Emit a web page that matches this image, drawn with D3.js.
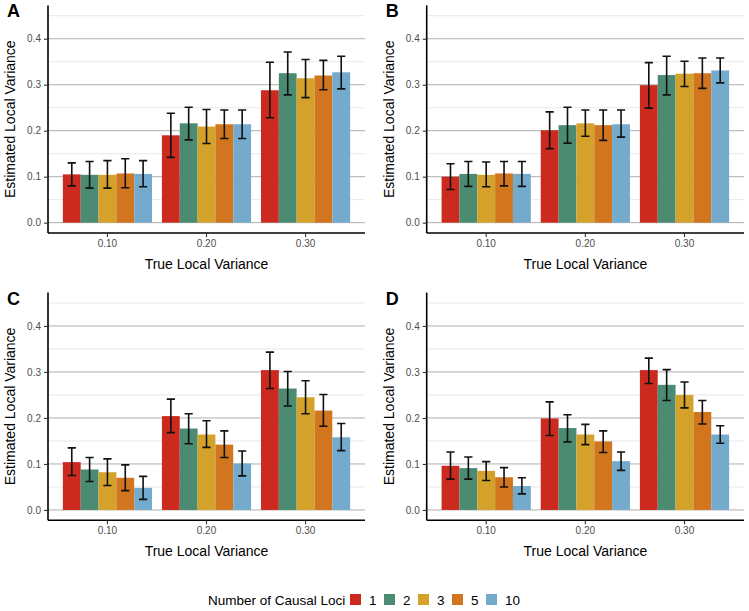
<!DOCTYPE html>
<html>
<head>
<meta charset="utf-8">
<script src="https://cdn.jsdelivr.net/npm/d3@7/dist/d3.min.js"></script>
<style>
  html, body { margin: 0; padding: 0; background: #fff; }
  svg { display: block; font-family: "Liberation Sans", Arial, Helvetica, sans-serif; }
</style>
</head>
<body>
<svg id="chart" width="749" height="611"></svg>
<script>
// ---------- data ----------
const categories = ["0.10", "0.20", "0.30"];
const loci = ["1", "2", "3", "5", "10"];
const lociColors = ["#CC2A1F", "#4A8B72", "#D4A22A", "#D1761F", "#74AACB"];
const yTicks = [0.0, 0.1, 0.2, 0.3, 0.4];
const yMinorTicks = [0.05, 0.15, 0.25, 0.35, 0.45];
const panelLabels = ["A", "B", "C", "D"];

// per category (rows) x per loci (columns)
const meanA = [[0.105, 0.104, 0.104, 0.107, 0.106], [0.190, 0.216, 0.209, 0.214, 0.214], [0.288, 0.325, 0.314, 0.320, 0.327]];
const loA   = [[0.080, 0.075, 0.075, 0.076, 0.078], [0.142, 0.180, 0.172, 0.183, 0.183], [0.228, 0.278, 0.272, 0.289, 0.291]];
const hiA   = [[0.130, 0.133, 0.135, 0.139, 0.135], [0.238, 0.251, 0.246, 0.245, 0.245], [0.349, 0.371, 0.355, 0.353, 0.362]];

const meanB = [[0.100, 0.106, 0.104, 0.107, 0.106], [0.201, 0.212, 0.216, 0.212, 0.214], [0.299, 0.321, 0.324, 0.325, 0.331]];
const loB   = [[0.072, 0.079, 0.078, 0.080, 0.079], [0.161, 0.173, 0.188, 0.179, 0.186], [0.249, 0.278, 0.296, 0.292, 0.304]];
const hiB   = [[0.128, 0.133, 0.132, 0.133, 0.133], [0.241, 0.251, 0.245, 0.245, 0.245], [0.348, 0.362, 0.351, 0.358, 0.358]];

const meanC = [[0.104, 0.088, 0.082, 0.070, 0.048], [0.204, 0.177, 0.164, 0.142, 0.101], [0.304, 0.264, 0.245, 0.216, 0.158]];
const loC   = [[0.075, 0.062, 0.053, 0.042, 0.023], [0.168, 0.144, 0.136, 0.114, 0.074], [0.264, 0.226, 0.209, 0.182, 0.129]];
const hiC   = [[0.135, 0.114, 0.111, 0.098, 0.073], [0.241, 0.209, 0.194, 0.172, 0.128], [0.343, 0.301, 0.281, 0.251, 0.188]];

const meanD = [[0.096, 0.091, 0.085, 0.071, 0.052], [0.199, 0.178, 0.164, 0.149, 0.106], [0.304, 0.272, 0.250, 0.213, 0.164]];
const loD   = [[0.067, 0.067, 0.064, 0.050, 0.035], [0.162, 0.148, 0.142, 0.125, 0.086], [0.275, 0.238, 0.222, 0.187, 0.145]];
const hiD   = [[0.126, 0.115, 0.105, 0.092, 0.070], [0.235, 0.207, 0.186, 0.172, 0.126], [0.330, 0.305, 0.278, 0.238, 0.183]];

const xTitle = "True Local Variance";
const yTitle = "Estimated Local Variance";
const legendTitle = "Number of Causal Loci";

// ---------- layout ----------
const svg = d3.select("#chart");
const panels = [
  { label: panelLabels[0], mean: meanA, lo: loA, hi: hiA, x0: 48, x1: 365, y0: 5.4, y1: 233 },
  { label: panelLabels[1], mean: meanB, lo: loB, hi: hiB, x0: 426.7, x1: 744, y0: 5.4, y1: 233 },
  { label: panelLabels[2], mean: meanC, lo: loC, hi: hiC, x0: 48, x1: 365, y0: 292.6, y1: 520.3 },
  { label: panelLabels[3], mean: meanD, lo: loD, hi: hiD, x0: 426.7, x1: 744, y0: 292.6, y1: 520.3 }
];

const color = d3.scaleOrdinal().domain(loci).range(lociColors);

panels.forEach(p => {
  const g = svg.append("g");
  const x = d3.scaleBand().domain(categories).range([p.x0, p.x1]).paddingInner(0.1).paddingOuter(0.15);
  const xi = d3.scaleBand().domain(loci).range([0, x.bandwidth()]).padding(0);
  const y = d3.scaleLinear().domain([-0.0225, 0.4725]).range([p.y1, p.y0]);

  // minor grid
  g.append("g").selectAll("line").data(yMinorTicks).join("line")
    .attr("x1", p.x0).attr("x2", p.x1)
    .attr("y1", d => y(d)).attr("y2", d => y(d))
    .attr("stroke", "#e3e3e3").attr("stroke-width", 0.8);
  // major grid
  g.append("g").selectAll("line").data(yTicks).join("line")
    .attr("x1", p.x0).attr("x2", p.x1)
    .attr("y1", d => y(d)).attr("y2", d => y(d))
    .attr("stroke", "#b0b0b0").attr("stroke-width", 1);

  // bars
  const rows = [];
  categories.forEach((c, i) => loci.forEach((l, j) => rows.push({ c, l, v: p.mean[i][j], lo: p.lo[i][j], hi: p.hi[i][j] })));

  g.append("g").selectAll("rect").data(rows).join("rect")
    .attr("x", d => x(d.c) + xi(d.l))
    .attr("width", xi.bandwidth())
    .attr("y", d => y(d.v))
    .attr("height", d => y(0) - y(d.v))
    .attr("fill", d => color(d.l));

  // error bars
  const capW = xi.bandwidth() * 0.46;
  const eb = g.append("g").attr("stroke", "#111").attr("stroke-width", 1.6).attr("fill", "none");
  eb.selectAll("path").data(rows).join("path")
    .attr("d", d => {
      const cx = x(d.c) + xi(d.l) + xi.bandwidth() / 2;
      const yl = y(d.lo), yh = y(d.hi);
      return `M${cx - capW / 2},${yh}H${cx + capW / 2}M${cx},${yh}V${yl}M${cx - capW / 2},${yl}H${cx + capW / 2}`;
    });

  // axes
  const xAxis = d3.axisBottom(x).tickSize(4).tickSizeOuter(0).tickPadding(3);
  const gx = g.append("g").attr("transform", `translate(0,${p.y1})`).call(xAxis);
  gx.select(".domain").attr("stroke", "#000").attr("stroke-width", 1.6)
    .attr("d", `M${p.x0},0H${p.x1}`);
  gx.selectAll(".tick line").attr("stroke", "#333").attr("stroke-width", 1.1);
  gx.selectAll(".tick text").attr("fill", "#4d4d4d").style("font-size", "10px")
    .style("font-family", "'Liberation Sans', Arial, sans-serif");

  const yAxis = d3.axisLeft(y).tickValues(yTicks).tickFormat(d3.format(".1f")).tickSize(4).tickSizeOuter(0).tickPadding(3);
  const gy = g.append("g").attr("transform", `translate(${p.x0},0)`).call(yAxis);
  gy.select(".domain").attr("stroke", "#000").attr("stroke-width", 1.6)
    .attr("d", `M0,${p.y0}V${p.y1}`);
  gy.selectAll(".tick line").attr("stroke", "#333").attr("stroke-width", 1.1);
  gy.selectAll(".tick text").attr("fill", "#4d4d4d").style("font-size", "10px")
    .style("font-family", "'Liberation Sans', Arial, sans-serif");

  // titles
  g.append("text")
    .attr("x", (p.x0 + p.x1) / 2).attr("y", p.y1 + 36)
    .attr("text-anchor", "middle").attr("fill", "#000")
    .style("font-size", "14px").text(xTitle);
  g.append("text")
    .attr("transform", `translate(${p.x0 - 33},${(p.y0 + p.y1) / 2}) rotate(-90)`)
    .attr("text-anchor", "middle").attr("fill", "#000")
    .style("font-size", "14px").text(yTitle);

  // panel label
  g.append("text")
    .attr("x", p.x0 - 41).attr("y", p.y0 + 12)
    .attr("fill", "#000").style("font-size", "18px").style("font-weight", "bold")
    .text(p.label);
});

// ---------- legend ----------
const lg = svg.append("g");
const legY = 600;
lg.append("text").attr("x", 208).attr("y", legY + 5)
  .style("font-size", "13.5px").attr("fill", "#000").text(legendTitle);
const legX = d3.scaleBand().domain(loci).range([350, 520]).padding(0);
loci.forEach(l => {
  lg.append("rect")
    .attr("x", legX(l)).attr("y", legY - 6)
    .attr("width", 11).attr("height", 11)
    .attr("fill", color(l));
  lg.append("text")
    .attr("x", legX(l) + 19).attr("y", legY + 5)
    .style("font-size", "13.5px").attr("fill", "#000").text(l);
});
</script>
</body>
</html>
